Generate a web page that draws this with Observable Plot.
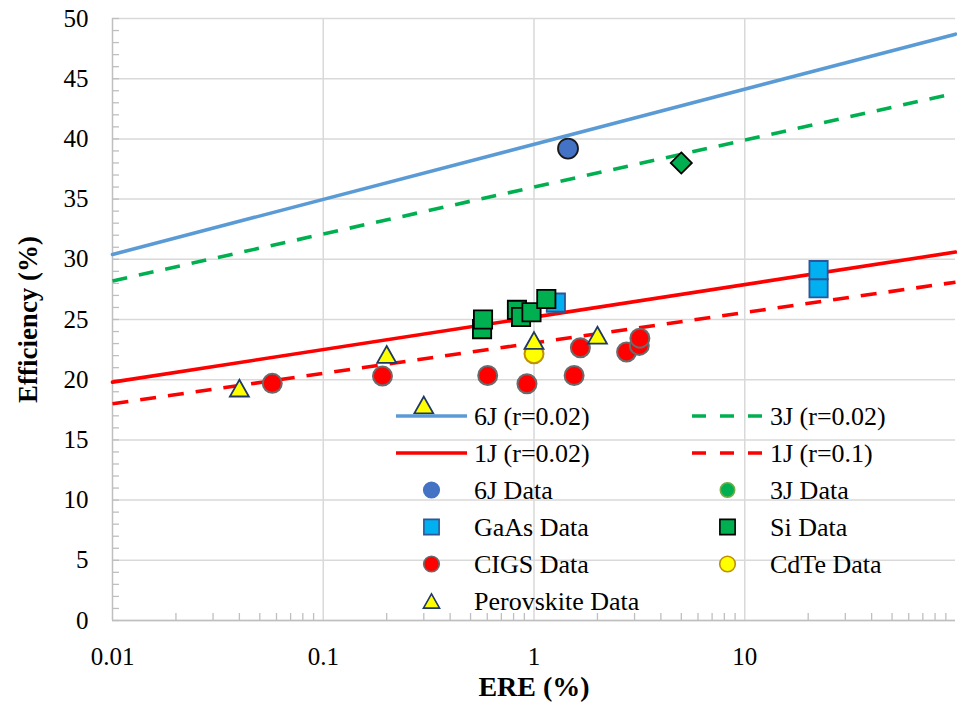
<!DOCTYPE html>
<html>
<head>
<meta charset="utf-8">
<script src="https://cdn.jsdelivr.net/npm/d3@7"></script>
<script src="https://cdn.jsdelivr.net/npm/@observablehq/plot@0.6"></script>
<style>
  body { margin: 0; background: #fff; }
  #chart { width: 957px; height: 702px; }
  #chart svg, #chart svg text { font-family: "Liberation Serif", "Times New Roman", Times, serif !important; }
</style>
</head>
<body>
<div id="chart"></div>
<script>
// ---- Axis ticks ----
const xTickValues = [0.01, 0.1, 1, 10];
const xGridValues = [0.1, 1, 10];
const yTickValues = [0, 5, 10, 15, 20, 25, 30, 35, 40, 45, 50];

// ---- Theory lines (straight in log ERE): ERE at the chart edges, efficiency read there ----
const lineEre = [0.01, 100];
const eff6J_r002 = [30.4, 48.7];
const eff3J_r002 = [28.2, 43.8];
const eff1J_r002 = [19.8, 30.6];
const eff1J_r01 = [18.0, 28.1];

// ---- Measured data ----
const ere6J = [1.45];
const eff6J = [39.2];
const ere3J = [5.0];
const eff3J = [38.0];
const ereGaAs = [1.27, 22.4, 22.4];
const effGaAs = [26.4, 27.6, 29.1];
const ereSi = [0.567, 0.573, 0.83, 0.868, 0.973, 1.144];
const effSi = [24.2, 25.0, 25.8, 25.2, 25.6, 26.7];
const ereCIGS = [0.0573, 0.191, 0.603, 0.926, 1.55, 1.66, 2.75, 3.16, 3.18];
const effCIGS = [19.7, 20.3, 20.35, 19.66, 20.35, 22.65, 22.3, 22.85, 23.45];
const ereCdTe = [1.0];
const effCdTe = [22.15];
const erePero = [0.04, 0.2, 0.3, 1.0, 2.0];
const effPero = [19.3, 22.1, 17.9, 23.25, 23.7];

// minor tick positions (axis decoration)
const xMinor = [];
for (const e of [0.01, 0.1, 1, 10]) for (let k = 2; k <= 9; k++) xMinor.push(+(k * e).toPrecision(3));
const yMinor = d3.range(0, 51, 1);

// bounding-box-centred triangle like Excel's marker
const triSym = {
  draw(ctx, size) {
    const r = Math.sqrt(size / Math.PI);
    const w = r * 1.3, h = r * 1.15;
    ctx.moveTo(0, -h); ctx.lineTo(w, h); ctx.lineTo(-w, h); ctx.closePath();
  }
};

const C = {
  blue: "#5B9BD5", green: "#00B050", red: "#FF0000",
  c6J: "#4472C4", gaas: "#00B0F0", yellow: "#FFFF00"
};
const FONT = "Liberation Serif, Times New Roman, serif";

const lineMark = (ys, stroke, dash) => Plot.line(lineEre, {
  x: d => d, y: (d, i) => ys[i], stroke, strokeWidth: 3.6,
  strokeDasharray: dash, strokeLinecap: dash ? "butt" : "round"
});
const dotMark = (xs, ys, o) => Plot.dot(xs, {x: d => d, y: (d, i) => ys[i], ...o});

const chart = Plot.plot({
  width: 957,
  height: 702,
  marginLeft: 112,
  marginRight: 2,
  marginTop: 18,
  marginBottom: 82,
  style: {fontFamily: FONT, fontSize: "25px", color: "#000", background: "#fff"},
  x: {type: "log", domain: [0.01, 100]},
  y: {domain: [0, 50]},
  marks: [
    Plot.ruleY(yTickValues, {stroke: "#D9D9D9", strokeWidth: 1.5}),
    Plot.ruleX(xGridValues, {stroke: "#D9D9D9", strokeWidth: 1.5}),
    Plot.ruleY(yMinor, {stroke: "#BFBFBF", strokeWidth: 1.3, insetRight: 836}),
    Plot.ruleX(xMinor, {stroke: "#BFBFBF", strokeWidth: 1.3, insetTop: 595}),
    Plot.ruleX([0.01], {stroke: "#BFBFBF", strokeWidth: 1.5}),
    Plot.ruleY([0], {stroke: "#BFBFBF", strokeWidth: 1.5}),
    Plot.axisX({ticks: xTickValues, tickFormat: d => String(d), tickSize: 0, tickPadding: 27, label: null, fontSize: 25}),
    Plot.axisY({ticks: yTickValues, tickSize: 0, tickPadding: 24, label: null, fontSize: 25}),
    lineMark(eff6J_r002, C.blue, null),
    lineMark(eff3J_r002, C.green, "15,12"),
    lineMark(eff1J_r002, C.red, null),
    lineMark(eff1J_r01, C.red, "16,12"),
    dotMark(ere6J, eff6J, {symbol: "circle", r: 10, fill: C.c6J, stroke: "#1a1a1a", strokeWidth: 1.8}),
    dotMark(ere3J, eff3J, {symbol: "diamond2", r: 9.5, fill: C.green, stroke: "#000", strokeWidth: 1.8}),
    dotMark(ereGaAs, effGaAs, {symbol: "square", r: 10.3, fill: C.gaas, stroke: "#2F5597", strokeWidth: 1.8}),
    dotMark(ereSi, effSi, {symbol: "square", r: 10.3, fill: C.green, stroke: "#000", strokeWidth: 1.8}),
    dotMark(ereCIGS, effCIGS, {symbol: "circle", r: 9.5, fill: C.red, stroke: "#6B6B6B", strokeWidth: 2}),
    dotMark(ereCdTe, effCdTe, {symbol: "circle", r: 9.5, fill: C.yellow, stroke: "#BF9000", strokeWidth: 2}),
    dotMark(erePero, effPero, {symbol: triSym, r: 7.3, fill: C.yellow, stroke: "#203864", strokeWidth: 1.8}),
    Plot.text(["ERE (%)"], {frameAnchor: "bottom", lineAnchor: "bottom", dy: 75, text: d => d, fontWeight: "bold", fontSize: 28}),
    Plot.text(["Efficiency (%)"], {frameAnchor: "left", textAnchor: "middle", lineAnchor: "middle", dx: -84, rotate: -90, text: d => d, fontWeight: "bold", fontSize: 27})
  ]
});
document.getElementById("chart").appendChild(chart);

// ---- Legend (inside the plot area, transparent) ----
const legendItems = [
  {col: 0, row: 0, label: "6J (r=0.02)", kind: "line", stroke: C.blue},
  {col: 1, row: 0, label: "3J (r=0.02)", kind: "line", stroke: C.green, dash: "14,14"},
  {col: 0, row: 1, label: "1J (r=0.02)", kind: "line", stroke: C.red},
  {col: 1, row: 1, label: "1J (r=0.1)", kind: "line", stroke: C.red, dash: "14,14"},
  {col: 0, row: 2, label: "6J Data", kind: "sym", sym: d3.symbolCircle, r: 7.8, fill: C.c6J, stroke: "#4472C4"},
  {col: 1, row: 2, label: "3J Data", kind: "sym", sym: d3.symbolCircle, r: 7.2, fill: C.green, stroke: "#70AD47"},
  {col: 0, row: 3, label: "GaAs Data", kind: "sym", sym: d3.symbolSquare, r: 8.6, fill: C.gaas, stroke: "#2F5597"},
  {col: 1, row: 3, label: "Si Data", kind: "sym", sym: d3.symbolSquare, r: 8.6, fill: C.green, stroke: "#000"},
  {col: 0, row: 4, label: "CIGS Data", kind: "sym", sym: d3.symbolCircle, r: 7.8, fill: C.red, stroke: "#6B6B6B"},
  {col: 1, row: 4, label: "CdTe Data", kind: "sym", sym: d3.symbolCircle, r: 7.8, fill: C.yellow, stroke: "#BF9000"},
  {col: 0, row: 5, label: "Perovskite Data", kind: "sym", sym: triSym, r: 6.2, fill: C.yellow, stroke: "#203864"}
];
const colX = [396, 692], rowY0 = 416, rowStep = 37, sampleLen = 71, textGap = 78;
const lg = d3.select(chart).append("g")
  .attr("font-family", FONT).attr("font-size", 26).attr("text-anchor", "start");
for (const it of legendItems) {
  const x0 = colX[it.col], y0 = rowY0 + it.row * rowStep;
  if (it.kind === "line") {
    lg.append("line").attr("x1", x0).attr("x2", x0 + sampleLen).attr("y1", y0).attr("y2", y0)
      .attr("stroke", it.stroke).attr("stroke-width", 3.6)
      .attr("stroke-dasharray", it.dash || null);
  } else {
    lg.append("path").attr("transform", `translate(${x0 + sampleLen / 2},${y0})`)
      .attr("d", d3.symbol(it.sym, it.r * it.r * Math.PI)())
      .attr("fill", it.fill).attr("stroke", it.stroke).attr("stroke-width", 1.6);
  }
  lg.append("text").attr("x", x0 + textGap).attr("y", y0).attr("dy", "0.35em")
    .attr("text-anchor", "start").style("font-size", "26px")
    .attr("fill", "#000").text(it.label);
}
</script>
</body>
</html>
